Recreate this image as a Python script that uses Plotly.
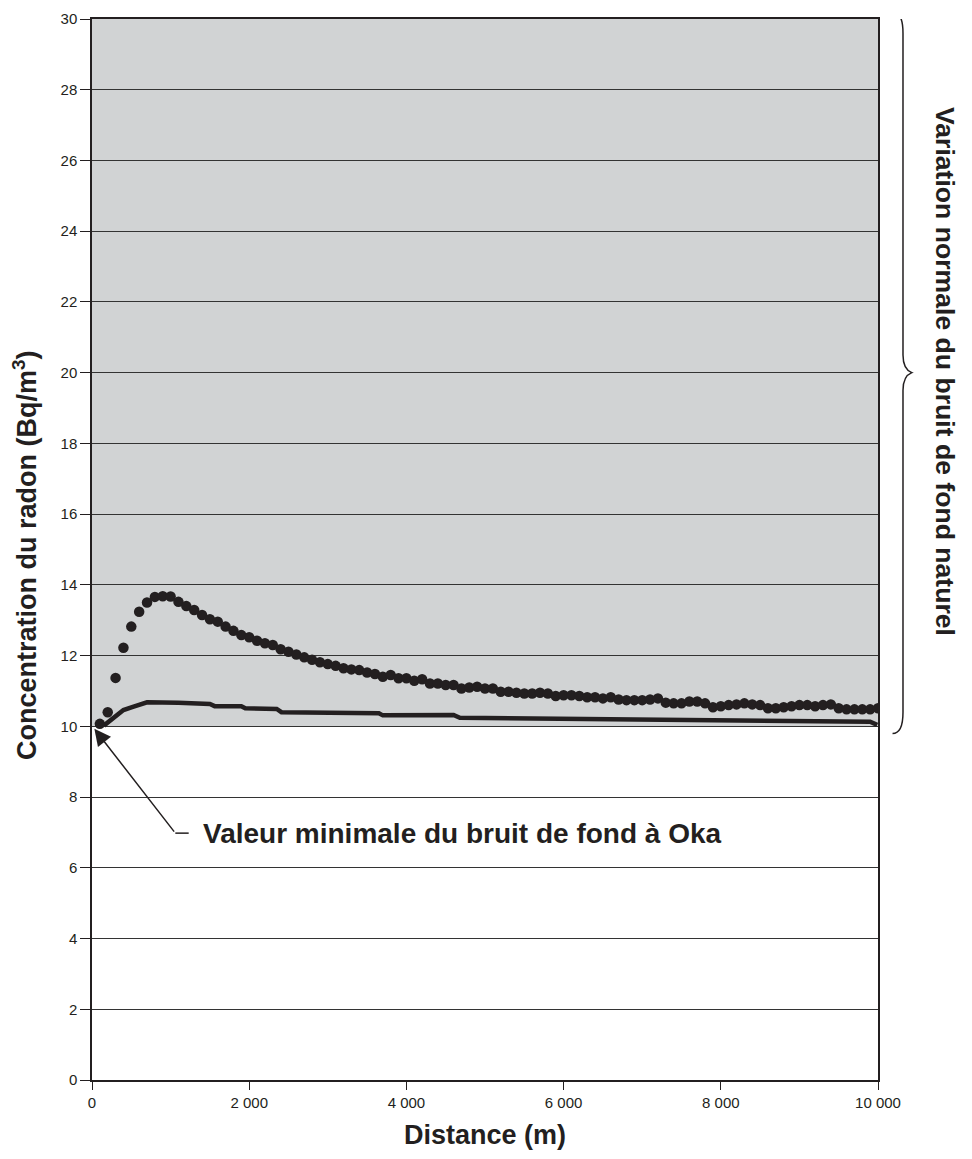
import plotly.graph_objects as go

# Dotted series (concentration, Bq/m3) every 100 m
dot_x = list(range(100, 10001, 100))
dot_y = [10.07, 10.40, 11.37, 12.22, 12.82, 13.24, 13.50, 13.66, 13.68, 13.67,
         13.52, 13.40, 13.29, 13.15, 13.03, 12.96, 12.82, 12.70, 12.58, 12.52,
         12.42, 12.35, 12.30, 12.18, 12.11, 12.03, 11.95, 11.88, 11.81, 11.76,
         11.71, 11.64, 11.61, 11.59, 11.52, 11.48, 11.40, 11.45, 11.36, 11.36,
         11.29, 11.33, 11.21, 11.21, 11.17, 11.17, 11.07, 11.10, 11.12, 11.07,
         11.07, 10.98, 10.98, 10.95, 10.93, 10.93, 10.95, 10.93, 10.86, 10.88,
         10.88, 10.86, 10.82, 10.82, 10.79, 10.82, 10.76, 10.74, 10.74, 10.74,
         10.76, 10.79, 10.67, 10.65, 10.65, 10.70, 10.70, 10.65, 10.54, 10.57,
         10.60, 10.62, 10.65, 10.62, 10.60, 10.51, 10.51, 10.54, 10.57, 10.60,
         10.60, 10.57, 10.60, 10.62, 10.51, 10.48, 10.48, 10.48, 10.48, 10.51]

# Solid line series
line_x = [150, 250, 400, 520, 620, 700, 1100, 1500, 1560, 1900, 1950, 2350, 2410,
          3000, 3650, 3700, 4600, 4680, 6000, 8000, 9900, 9990]
line_y = [10.02, 10.20, 10.46, 10.55, 10.62, 10.68, 10.67, 10.63, 10.57, 10.57, 10.51,
          10.49, 10.40, 10.38, 10.37, 10.31, 10.32, 10.24, 10.21, 10.19, 10.13, 10.04]

x_ticks = [0, 2000, 4000, 6000, 8000, 10000]
x_tick_labels = ["0", "2 000", "4 000", "6 000", "8 000", "10 000"]
y_ticks = list(range(0, 31, 2))

band_low, band_high = 10, 30

INK = "#231f20"
FONT = "Liberation Sans, Arial, sans-serif"

fig = go.Figure()
fig.add_trace(go.Scatter(x=line_x, y=line_y, mode="lines",
                         line=dict(color=INK, width=4.5), hoverinfo="skip"))
fig.add_trace(go.Scatter(x=dot_x, y=dot_y, mode="markers",
                         marker=dict(color=INK, size=10.5), hoverinfo="skip"))

# gray band (natural background variation)
fig.add_shape(type="rect", xref="x", yref="y", x0=0, x1=10000, y0=band_low, y1=band_high,
              fillcolor="#d1d3d4", line=dict(width=0), layer="below")

# brace on the right
bx0, bx1, bx2 = 1.0185, 1.0318, 1.043
fig.add_shape(type="path", xref="paper", yref="y",
              path=(f"M {bx0} 30.2 Q {bx1} 30.2 {bx1} 29.6 L {bx1} 20.5 "
                    f"Q {bx1} 20.1 {bx2} 20 Q {bx1} 19.9 {bx1} 19.5 L {bx1} 10.4 "
                    f"Q {bx1} 9.8 {bx0} 9.8"),
              line=dict(color=INK, width=1.5))

# horizontal part of the leader
fig.add_shape(type="line", xref="x", yref="y", x0=1060, x1=1230, y0=6.98, y1=6.98,
              line=dict(color=INK, width=1.5))

fig.add_annotation(x=30, y=9.93, xref="x", yref="y", ax=1060, ay=6.98,
                   axref="x", ayref="y", text="", showarrow=True,
                   arrowhead=2, arrowsize=2.2, arrowwidth=1.5, arrowcolor=INK)
fig.add_annotation(x=1385, y=6.98, xref="x", yref="y", xanchor="left", yanchor="middle",
                   text="<b>Valeur minimale du bruit de fond à Oka</b>", showarrow=False,
                   font=dict(family=FONT, size=28, color=INK))

fig.add_annotation(x=1.0852, y=0.6673, xref="paper", yref="paper", showarrow=False,
                   xanchor="center", yanchor="middle",
                   text="<b>Variation normale du bruit de fond naturel</b>", textangle=90,
                   font=dict(family=FONT, size=26.6, color=INK))

# axis titles
fig.add_annotation(x=-0.0852, y=0.4948, xref="paper", yref="paper", showarrow=False,
                   xanchor="center", yanchor="middle", textangle=-90,
                   text="<b>Concentration du radon (Bq/m<sup>3</sup>)</b>",
                   font=dict(family=FONT, size=27, color=INK))
fig.add_annotation(x=0.5, y=-0.0518, xref="paper", yref="paper", showarrow=False,
                   xanchor="center", yanchor="middle",
                   text="<b>Distance (m)</b>",
                   font=dict(family=FONT, size=27, color=INK))

fig.update_layout(
    width=964, height=1151,
    margin=dict(l=84, r=94, t=11, b=79, autoexpand=False),
    paper_bgcolor="white", plot_bgcolor="white",
    showlegend=False,
    font=dict(family=FONT, color=INK),
    xaxis=dict(range=[0, 10000], tickvals=x_ticks, ticktext=x_tick_labels, automargin=False,
               showgrid=False, zeroline=False, showline=True, linecolor=INK, linewidth=1.5,
               mirror=True, ticks="outside", ticklen=8, tickcolor=INK, tickwidth=1.3,
               tickfont=dict(family=FONT, size=15, color=INK)),
    yaxis=dict(range=[0, 30], tickvals=y_ticks, automargin=False,
               showgrid=True, gridcolor="#333333", gridwidth=1.3,
               zeroline=False, showline=True, linecolor=INK, linewidth=1.5, mirror=True,
               ticks="outside", ticklen=10, tickcolor=INK, tickwidth=1.3,
               tickfont=dict(family=FONT, size=15, color=INK)),
)

fig.write_html("out.html")
